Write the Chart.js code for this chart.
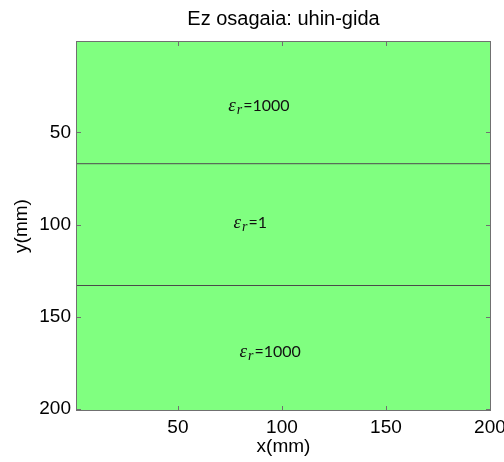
<!DOCTYPE html>
<html><head><meta charset="utf-8">
<script src="https://cdn.jsdelivr.net/npm/chart.js@4/dist/chart.umd.min.js"></script>
<style>html,body{margin:0;padding:0;background:#fff}#wrap{width:504px;height:462px}</style>
</head><body><div id="wrap"><canvas id="c" width="504" height="462"></canvas></div>
<script>
// Waveguide cross-section: three dielectric layers stacked along y
const chartTitle = 'Ez osagaia: uhin-gida';
const xTitle = 'x(mm)';
const yTitle = 'y(mm)';
const xTicks = [50, 100, 150, 200];
const yTicks = [50, 100, 150, 200];
const xRange = [1, 200.5];
const yRange = [0.5, 201];
const layerEdges = [0.5, 67, 133, 201];   // y (mm) of layer boundaries
const layerEps = [1000, 1, 1000];         // relative permittivity of each layer
const interfaceY = [67, 133];             // drawn interfaces
const epsLabelX = [74.2, 76.7, 79.6];     // label anchor (mm)
const epsLabelY = [38.7, 101.6, 172.0];

const SANS = '"Liberation Sans", Arial, sans-serif';

const layerPlugin = {
  id: 'layers',
  beforeDatasetsDraw(chart) {
    const {ctx, chartArea: a, scales: {x, y}} = chart;
    ctx.save();
    ctx.beginPath();
    ctx.rect(a.left, a.top, a.right - a.left, a.bottom - a.top);
    ctx.clip();
    ctx.fillStyle = '#80ff80';
    for (let i = 0; i < layerEps.length; i++) {
      const y0 = y.getPixelForValue(layerEdges[i]);
      const y1 = y.getPixelForValue(layerEdges[i + 1]);
      ctx.fillRect(x.getPixelForValue(xRange[0]), y0, x.getPixelForValue(xRange[1]) - x.getPixelForValue(xRange[0]), y1 - y0);
    }
    ctx.restore();
  },
  afterDatasetsDraw(chart) {
    const {ctx, chartArea: a, scales: {x, y}} = chart;
    ctx.save();
    // layer annotations
    ctx.fillStyle = '#111';
    ctx.textBaseline = 'alphabetic';
    for (let i = 0; i < layerEps.length; i++) {
      let px = x.getPixelForValue(epsLabelX[i]);
      const py = y.getPixelForValue(epsLabelY[i]);
      ctx.font = 'italic 19px "Liberation Serif", serif';
      ctx.fillText('\u03b5', px, py);
      px += ctx.measureText('\u03b5').width + 1;
      ctx.font = 'italic 14px "Liberation Serif", serif';
      ctx.fillText('r', px, py + 3);
      px += ctx.measureText('r').width + 1;
      ctx.font = '16px Lato, sans-serif';
      ctx.fillText('=' + layerEps[i], px, py);
    }
    // axes box
    ctx.strokeStyle = '#707070';
    ctx.lineWidth = 1;
    ctx.strokeRect(Math.round(a.left) + 0.5, Math.round(a.top) + 0.5, Math.round(a.right - a.left) - 1, Math.round(a.bottom - a.top) - 1);
    // inward tick marks on all four sides
    const tl = 5;
    ctx.beginPath();
    xTicks.forEach(v => {
      const px = Math.round(x.getPixelForValue(v)) + 0.5;
      ctx.moveTo(px, a.bottom); ctx.lineTo(px, a.bottom - tl);
      ctx.moveTo(px, a.top); ctx.lineTo(px, a.top + tl);
    });
    yTicks.forEach(v => {
      const py = Math.round(y.getPixelForValue(v)) + 0.5;
      ctx.moveTo(a.left, py); ctx.lineTo(a.left + tl, py);
      ctx.moveTo(a.right, py); ctx.lineTo(a.right - tl, py);
    });
    ctx.stroke();
    // titles
    ctx.fillStyle = '#000';
    ctx.textAlign = 'center';
    ctx.textBaseline = 'alphabetic';
    ctx.font = '20px ' + SANS;
    ctx.fillText(chartTitle, (a.left + a.right) / 2, 25);
    ctx.textBaseline = 'middle';
    ctx.font = '19px ' + SANS;
    ctx.fillText(xTitle, (a.left + a.right) / 2, 447);
    ctx.translate(22, (a.top + a.bottom) / 2);
    ctx.rotate(-Math.PI / 2);
    ctx.fillText(yTitle, 0, 0);
    ctx.restore();
  }
};

const interfaceSets = interfaceY.map(v => ({
  data: [{x: xRange[0], y: v}, {x: xRange[1], y: v}],
  borderColor: '#4a4a4a',
  borderWidth: 1,
  pointRadius: 0,
  showLine: true,
  fill: false
}));

new Chart(document.getElementById('c'), {
  type: 'scatter',
  data: {datasets: interfaceSets},
  options: {
    responsive: false,
    animation: false,
    devicePixelRatio: 1,
    layout: {padding: {top: 41, right: 13, left: 0, bottom: 0}},
    plugins: {legend: {display: false}, title: {display: false}, tooltip: {enabled: false}},
    scales: {
      x: {
        type: 'linear', min: xRange[0], max: xRange[1],
        grid: {display: false, drawTicks: false},
        border: {display: false},
        afterBuildTicks: s => { s.ticks = xTicks.map(v => ({value: v})); },
        afterFit: s => { s.height = 51; s.paddingLeft = 0; s.paddingRight = 0; },
        ticks: {color: '#000', font: {family: SANS, size: 19}, padding: 5, maxRotation: 0, autoSkip: false}
      },
      y: {
        type: 'linear', reverse: true, min: yRange[0], max: yRange[1],
        grid: {display: false, drawTicks: false},
        border: {display: false},
        afterBuildTicks: s => { s.ticks = yTicks.map(v => ({value: v})); },
        afterFit: s => { s.width = 76; s.paddingTop = 0; s.paddingBottom = 0; },
        ticks: {color: '#000', font: {family: SANS, size: 19}, padding: 5, autoSkip: false}
      }
    }
  },
  plugins: [layerPlugin]
});
</script>
</body></html>
